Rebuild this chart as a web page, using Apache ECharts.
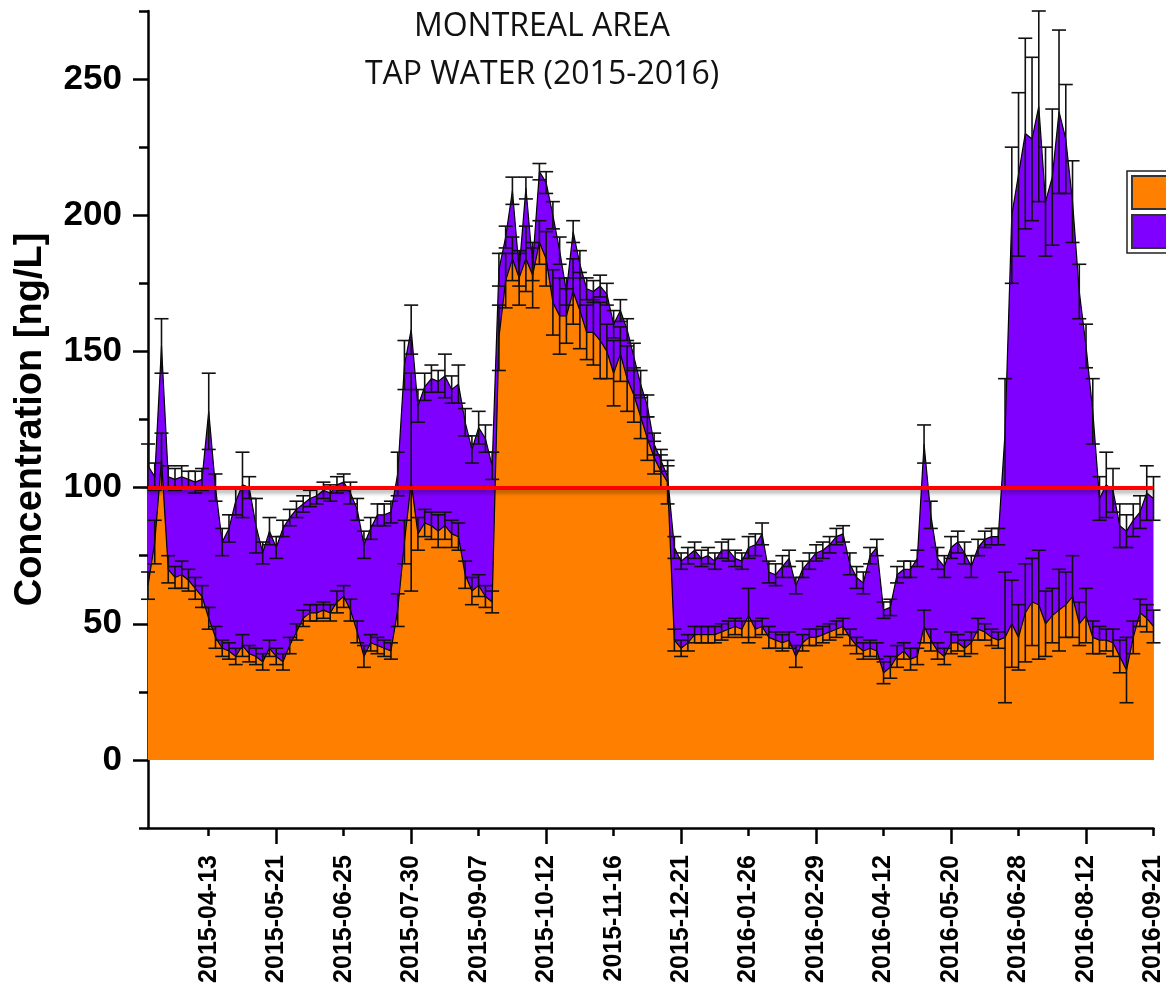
<!DOCTYPE html>
<html>
<head>
<meta charset="utf-8">
<script src="https://cdn.jsdelivr.net/npm/echarts@6/dist/echarts.min.js"></script>
<style>
html,body{margin:0;padding:0;background:#fff;}
#chart{width:1166px;height:993px;}
</style>
</head>
<body>
<div id="chart"></div>
<script>
// Sample dates (category axis, one per sample)
const categories = [
'2015-03-12','2015-03-16','2015-03-19','2015-03-23','2015-03-26','2015-03-30','2015-04-02','2015-04-06','2015-04-09','2015-04-13',
'2015-04-17','2015-04-21','2015-04-24','2015-04-28','2015-05-02','2015-05-06','2015-05-10','2015-05-13','2015-05-17','2015-05-21',
'2015-05-24','2015-05-28','2015-05-31','2015-06-04','2015-06-07','2015-06-11','2015-06-14','2015-06-18','2015-06-21','2015-06-25',
'2015-06-28','2015-07-02','2015-07-05','2015-07-09','2015-07-12','2015-07-16','2015-07-19','2015-07-23','2015-07-26','2015-07-30',
'2015-08-03','2015-08-07','2015-08-11','2015-08-15','2015-08-19','2015-08-23','2015-08-27','2015-08-31','2015-09-03','2015-09-07',
'2015-09-10','2015-09-14','2015-09-17','2015-09-21','2015-09-24','2015-09-28','2015-10-01','2015-10-05','2015-10-08','2015-10-12',
'2015-10-15','2015-10-19','2015-10-22','2015-10-26','2015-10-29','2015-11-02','2015-11-05','2015-11-09','2015-11-12','2015-11-16',
'2015-11-19','2015-11-23','2015-11-26','2015-11-30','2015-12-03','2015-12-07','2015-12-10','2015-12-14','2015-12-17','2015-12-21',
'2015-12-25','2015-12-28','2016-01-01','2016-01-05','2016-01-08','2016-01-12','2016-01-15','2016-01-19','2016-01-22','2016-01-26',
'2016-01-29','2016-02-02','2016-02-05','2016-02-09','2016-02-12','2016-02-15','2016-02-19','2016-02-22','2016-02-26','2016-02-29',
'2016-03-04','2016-03-08','2016-03-13','2016-03-17','2016-03-21','2016-03-25','2016-03-30','2016-04-03','2016-04-08','2016-04-12',
'2016-04-16','2016-04-20','2016-04-23','2016-04-27','2016-05-01','2016-05-05','2016-05-09','2016-05-12','2016-05-16','2016-05-20',
'2016-05-24','2016-05-28','2016-06-01','2016-06-05','2016-06-09','2016-06-13','2016-06-17','2016-06-20','2016-06-24','2016-06-28',
'2016-07-03','2016-07-07','2016-07-12','2016-07-16','2016-07-21','2016-07-25','2016-07-30','2016-08-03','2016-08-08','2016-08-12',
'2016-08-16','2016-08-20','2016-08-24','2016-08-28','2016-09-01','2016-09-05','2016-09-09','2016-09-13','2016-09-17','2016-09-21'
];

// Tick labels shown on the x axis
const tickLabels = ['2015-04-13','2015-05-21','2015-06-25','2015-07-30','2015-09-07','2015-10-12','2015-11-16',
  '2015-12-21','2016-01-26','2016-02-29','2016-04-12','2016-05-20','2016-06-28','2016-08-12','2016-09-21'];
const longTickLabels = ['2015-05-21','2015-07-30','2015-10-12','2015-12-21','2016-02-29','2016-05-20','2016-08-12'];

// Lower (orange) concentration, ng/L
const orangeValues = [
64,80,110,70,67,68,66,63,60,52,
45,41,40,38,42,39,38,36,41,38,
36,42,47,52,54,54,55,54,58,60,
55,47,38,43,42,41,40,55,80,102,
83,87,86,84,86,83,82,68,62,64,
60,58,155,176,184,177,184,178,190,184,
168,163,163,172,165,157,157,154,150,142,
149,140,134,126,118,111,106,102,44,41,
43,46,46,46,46,47,48,49,48,53,
48,49,45,44,43,44,38,43,45,45,
46,47,48,49,45,42,40,41,40,32,
34,38,40,37,38,49,44,40,38,43,
43,41,43,48,47,45,44,45,50,45,
54,58,57,50,53,55,57,60,50,53,
45,44,44,43,38,33,45,54,52,49
];
const orangeErrors = [
5,8,10,5,4,5,4,4,4,4,
4,3,3,3,4,3,3,3,3,3,
3,3,3,3,3,3,3,3,4,4,
4,4,4,3,3,3,3,6,8,40,
6,5,5,6,5,5,5,5,5,4,
4,4,12,10,8,10,12,12,8,10,
12,14,10,12,14,10,12,14,10,12,
10,12,10,8,8,6,6,8,4,3,
3,3,3,3,3,3,3,3,3,10,
3,3,4,3,3,3,4,3,3,3,
3,3,3,3,3,3,3,3,3,4,
4,4,3,4,3,6,4,3,3,4,
3,3,4,4,3,3,3,24,16,12,
18,16,20,12,10,15,12,15,8,10,
6,5,4,5,6,12,6,5,5,6
];

// Upper (purple) total concentration, ng/L
const purpleValues = [
108,104,152,104,103,104,103,102,103,128,
100,80,85,95,101,100,86,76,84,78,
85,89,92,94,96,97,99,98,101,102,
98,92,79,85,90,90,91,105,145,158,
130,137,140,139,141,136,138,124,114,122,
118,108,180,192,209,180,210,182,216,212,
200,187,172,194,182,173,172,174,171,160,
165,158,148,138,130,116,110,104,78,73,
75,77,74,75,73,77,77,74,73,78,
79,83,69,68,71,74,64,70,73,76,
77,79,82,83,72,67,65,75,78,55,
56,68,70,70,74,116,90,74,71,78,
80,76,71,78,81,82,82,120,200,215,
230,228,240,205,214,238,228,205,172,152,
128,96,101,99,86,84,88,91,98,96
];
const purpleErrors = [
8,5,10,4,4,4,3,4,4,14,
5,5,5,5,12,4,10,4,5,4,
3,3,3,3,3,3,3,3,3,3,
4,4,5,4,4,4,4,8,9,9,
6,5,5,4,8,5,7,5,5,6,
5,5,6,4,5,6,4,6,3,4,
5,5,5,4,5,4,4,4,4,5,
4,4,5,5,4,4,4,4,4,3,
3,3,3,3,3,3,4,3,3,4,
4,4,4,4,4,3,3,3,3,3,
3,3,3,3,4,4,4,3,3,3,
3,3,3,3,3,7,5,4,4,4,
4,4,4,3,3,3,3,20,25,30,
35,30,35,20,25,30,20,15,10,8,
12,8,12,8,8,6,6,6,10,8
];

const guideline = 100;
const yLabelValues = [0, 50, 100, 150, 200, 250];
const yMinorValues = [-25, 25, 75, 125, 175, 225, 275];

const orangeName = 'Lower bound';
const purpleName = 'Upper bound';

const orangeErrData = orangeValues.map((v, i) => [i, v - orangeErrors[i], v + orangeErrors[i]]);
const purpleErrData = purpleValues.map((v, i) => [i, v - purpleErrors[i], v + purpleErrors[i]]);

function renderErr(params, api) {
  const lo = api.coord([api.value(0), api.value(1)]);
  const hi = api.coord([api.value(0), api.value(2)]);
  const w = 7;
  const st = {stroke: '#111', lineWidth: 1.6};
  return {type: 'group', children: [
    {type: 'line', shape: {x1: lo[0], y1: lo[1], x2: hi[0], y2: hi[1]}, style: st},
    {type: 'line', shape: {x1: lo[0] - w, y1: lo[1], x2: lo[0] + w, y2: lo[1]}, style: st},
    {type: 'line', shape: {x1: hi[0] - w, y1: hi[1], x2: hi[0] + w, y2: hi[1]}, style: st}
  ]};
}

const chart = echarts.init(document.getElementById('chart'), null, {renderer: 'canvas'});
const labelFont = 'Liberation Sans, Arial, sans-serif';
const isTick = (idx) => tickLabels.indexOf(categories[idx]) >= 0;
const isLongTick = (idx) => longTickLabels.indexOf(categories[idx]) >= 0;

chart.setOption({
  animation: false,
  backgroundColor: '#ffffff',
  title: {
    text: 'MONTREAL AREA\nTAP WATER (2015-2016)',
    left: 537, top: -2, textAlign: 'center',
    textStyle: {fontFamily: 'Open Sans', fontSize: 32, fontWeight: 'normal', color: '#111', lineHeight: 48}
  },
  legend: {
    orient: 'vertical', left: 1127, top: 171,
    data: [orangeName, purpleName],
    itemWidth: 44, itemHeight: 33, itemGap: 4, padding: 4,
    borderColor: '#222', borderWidth: 1.5,
    icon: 'rect',
    textStyle: {fontSize: 20, color: '#000'}
  },
  grid: {left: 148, right: 11, top: 11, bottom: 165, containLabel: false},
  xAxis: [{
    type: 'category', data: categories, boundaryGap: false,
    axisLine: {onZero: false, lineStyle: {color: '#000', width: 2.5}},
    axisTick: {interval: (i) => isTick(i), length: 8, lineStyle: {color: '#000', width: 2.5}},
    axisLabel: {interval: (i) => isTick(i), rotate: 90, margin: 27, fontFamily: labelFont,
      fontWeight: 'bold', fontSize: 25, color: '#000'},
    splitLine: {show: false}
  }, {
    type: 'category', data: categories, boundaryGap: false, position: 'bottom',
    axisLine: {show: false, onZero: false},
    axisTick: {interval: (i) => isLongTick(i), length: 16, lineStyle: {color: '#000', width: 2.5}},
    axisLabel: {show: false},
    splitLine: {show: false}
  }],
  yAxis: [{
    type: 'value', min: -25, max: 275,
    axisLine: {show: true, lineStyle: {color: '#000', width: 2.5}},
    axisTick: {show: true, customValues: yLabelValues, length: 15, lineStyle: {color: '#000', width: 2.5}},
    axisLabel: {customValues: yLabelValues, margin: 26, fontFamily: labelFont, fontWeight: 'bold', fontSize: 35, color: '#000'},
    splitLine: {show: false},
    name: 'Concentration [ng/L]', nameLocation: 'middle', nameRotate: 90, nameGap: 98,
    nameTextStyle: {fontFamily: labelFont, fontWeight: 'bold', fontSize: 38, color: '#000'}
  }, {
    type: 'value', min: -25, max: 275, position: 'left',
    axisLine: {show: false},
    axisTick: {show: true, customValues: yMinorValues, length: 9, lineStyle: {color: '#000', width: 2.5}},
    axisLabel: {show: false},
    splitLine: {show: false}
  }],
  series: [
    {
      name: purpleName, type: 'line', data: purpleValues, symbol: 'none', z: 1,
      lineStyle: {color: '#000', width: 1.2},
      itemStyle: {color: '#8000FF', borderColor: '#333', borderWidth: 1.5},
      areaStyle: {color: '#8000FF', opacity: 1}
    },
    {
      name: orangeName, type: 'line', data: orangeValues, symbol: 'none', z: 2,
      lineStyle: {color: '#000', width: 1.2},
      itemStyle: {color: '#FF8000', borderColor: '#333', borderWidth: 1.5},
      areaStyle: {color: '#FF8000', opacity: 1}
    },
    {
      name: 'limit', type: 'line', data: [], z: 3, symbol: 'none',
      markLine: {
        silent: true, symbol: ['none', 'none'], label: {show: false},
        lineStyle: {color: '#ff0000', width: 4, type: 'solid',
          shadowColor: 'rgba(0,0,0,0.35)', shadowBlur: 4, shadowOffsetY: 3},
        data: [{yAxis: guideline}]
      }
    },
    {
      name: 'orangeErr', type: 'custom', data: orangeErrData, renderItem: renderErr, z: 4,
      encode: {x: 0, y: [1, 2]}, silent: true
    },
    {
      name: 'purpleErr', type: 'custom', data: purpleErrData, renderItem: renderErr, z: 4,
      encode: {x: 0, y: [1, 2]}, silent: true
    }
  ]
});
</script>
</body>
</html>
